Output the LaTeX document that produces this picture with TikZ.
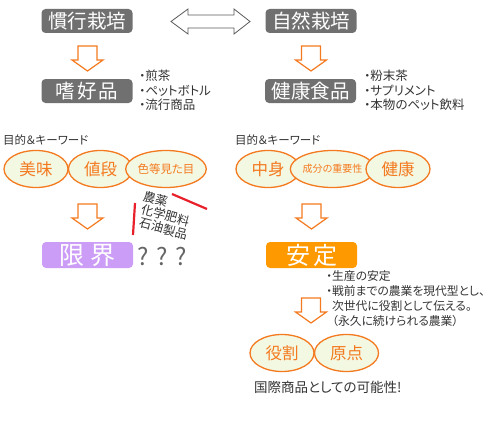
\documentclass[tikz,border=0pt]{standalone}
\usepackage{fontspec}
\setmainfont[RawFeature=+palt]{Noto Sans CJK JP}
\usetikzlibrary{shapes.geometric}
\definecolor{boxgray}{HTML}{707070}
\definecolor{kworange}{HTML}{F47A20}
\definecolor{kwfill}{HTML}{F3F8E2}
\definecolor{anteiorange}{HTML}{FF9900}
\definecolor{genkaipurple}{HTML}{CC9DF7}
\definecolor{notegray}{HTML}{333333}
\definecolor{redline}{HTML}{E8202A}
\tikzset{
  titlebox/.style={fill=boxgray, text=white, rounded corners=4pt, minimum width=91pt,
    minimum height=24pt, inner sep=0pt, font=\fontsize{19.5}{20}\selectfont},
  keyword/.style={ellipse, draw=kworange, line width=1.3pt, fill=kwfill, minimum width=64pt,
    minimum height=37pt, inner sep=0pt, text=kworange, font=\fontsize{16.5}{17}\selectfont},
  note/.style={anchor=north west, align=left, inner sep=0pt, text=notegray,
    font=\fontsize{12.5}{14.5}\selectfont},
  pics/downarrow/.style={code={
    \draw[draw=kworange, line width=1.2pt, fill=white, line join=miter]
      (-9.5,0) -- (9.5,0) -- (9.5,14) -- (15.5,14) -- (0,25) -- (-15.5,14) -- (-9.5,14) -- cycle;
  }}
}
\newcommand\listdot{・}
\begin{document}
\begin{tikzpicture}[x=1pt, y=-1pt]
  \useasboundingbox (0,0) rectangle (497,420);
  \node[titlebox] (kanko) at (87,21) {慣行栽培};
  \node[titlebox] (shizen) at (311,21) {自然栽培};
  \draw[draw=boxgray!80!black, line width=0.8pt, fill=white]
    (171,21.5) -- (188,9) -- (188,15) -- (234,15) -- (234,9) -- (250,21.5)
    -- (234,34) -- (234,28) -- (188,28) -- (188,34) -- cycle;
  \pic at (87.5,46) {downarrow};
  \pic at (311,46) {downarrow};
  \node[titlebox] (shiko) at (87,91) {嗜\hspace{2pt}好\hspace{2pt}品};
  \node[titlebox] (kenkoshoku) at (310.5,91) {健康食品};
  \node[note] (listL) at (139,70) {\listdot 煎茶\\\listdot ペットボトル\\\listdot 流行商品};
  \node[note] (listR) at (364,70) {\listdot 粉末茶\\\listdot サプリメント\\\listdot 本物のペット飲料};

  \node[note, font=\fontsize{11.5}{12}\selectfont, anchor=west] (goalL) at (3,140) {目的＆キーワード};
  \node[note, font=\fontsize{11.5}{12}\selectfont, anchor=west] (goalR) at (235,140) {目的＆キーワード};
  \node[keyword] (bimi) at (36,169) {美味};
  \node[keyword] (nedan) at (100.5,169) {値段};
  \node[keyword, font=\fontsize{11.5}{12}\selectfont] (mitame) at (166,169) {色等見た目};
  \node[keyword] (nakami) at (268,169) {中身};
  \node[keyword, font=\fontsize{10}{11}\selectfont] (seibun) at (332.5,169) {成分の重要性};
  \node[keyword] (kenko) at (398,169) {健康};

  \pic at (87.5,204) {downarrow};
  \pic at (311.5,204) {downarrow};
  \draw[redline, line width=2.2pt] (135,203) -- (133,235);
  \draw[redline, line width=2.2pt] (172,194) -- (207,209);
  \node[note, font=\fontsize{12.3}{13.3}\selectfont, rotate=-15] (hiryo) at (145,190)
    {農薬\\\hspace{1.5pt}化学肥料\\\hspace{3pt}石油製品};
  \node[titlebox, fill=genkaipurple, minimum height=26pt, font=\fontsize{25}{25}\selectfont] (genkai) at (87.5,255) {限\hspace{6pt}界};
  \node[note, text=boxgray!90!black, font=\fontsize{24}{24}\selectfont, anchor=west] (qmarks) at (137,257) {?\hspace{8pt}?\hspace{8pt}?};
  \node[titlebox, fill=anteiorange, minimum height=26pt, font=\fontsize{24}{24}\selectfont] (antei) at (311.5,255) {安\hspace{3pt}定};

  \node[note, font=\fontsize{11.8}{15}\selectfont] (listA) at (326,270)
    {\listdot 生産の安定\\\listdot 戦前までの農業を現代型とし、\\\phantom{\listdot}次世代に役割として伝える。\\\phantom{\listdot}（永久に続けられる農業）};
  \pic at (311,298) {downarrow};
  \node[keyword] (yakuwari) at (282,353) {役割};
  \node[keyword] (genten) at (346.5,353) {原点};
  \node[note, font=\fontsize{13.5}{14}\selectfont, anchor=west] (kanousei) at (254,387) {国際商品としての可能性!};
\end{tikzpicture}
\end{document}
